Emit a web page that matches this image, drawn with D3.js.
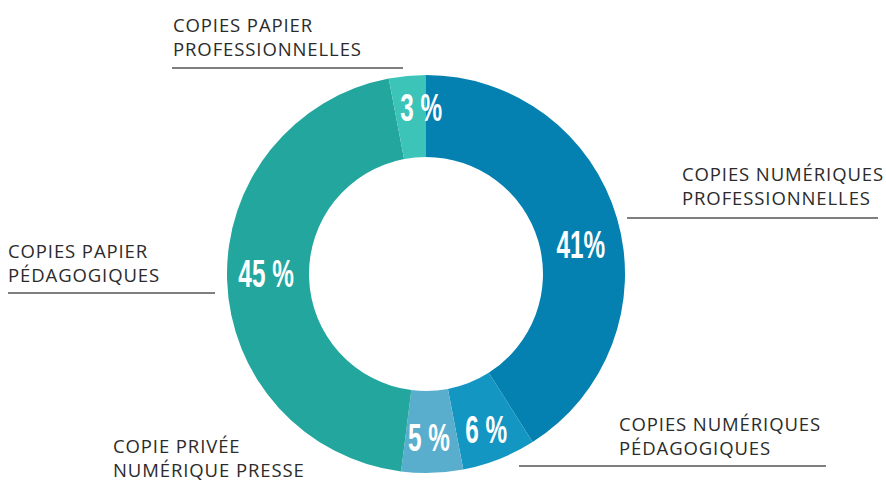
<!DOCTYPE html>
<html><head><meta charset="utf-8">
<script src="https://cdn.jsdelivr.net/npm/d3@7"></script>
<style>body{margin:0;background:#fff}svg{display:block}</style>
</head><body>
<svg id="c" width="886" height="481"></svg>
<script>
const categories = ["COPIES NUMÉRIQUES PROFESSIONNELLES","COPIES NUMÉRIQUES PÉDAGOGIQUES","COPIE PRIVÉE NUMÉRIQUE PRESSE","COPIES PAPIER PÉDAGOGIQUES","COPIES PAPIER PROFESSIONNELLES"];
const values = [41, 6, 5, 45, 3];
const valueLabels = ["41%", "6 %", "5 %", "45 %", "3 %"];
const labelLines = [["COPIES NUMÉRIQUES","PROFESSIONNELLES"],["COPIES NUMÉRIQUES","PÉDAGOGIQUES"],["COPIE PRIVÉE","NUMÉRIQUE PRESSE"],["COPIES PAPIER","PÉDAGOGIQUES"],["COPIES PAPIER","PROFESSIONNELLES"]];
const colors = ["#0481b1","#1496c2","#5aaecd","#23a69d","#3cc4b8"];

// layout (not data)
const cx = 426, cy = 274, R = 199, r = 117;
const nudges = [[3,15],[2,9],[-2,6],[-2,-5],[10,-9]];
const catPos = [
  {x:682, y:181, lx1:627, lx2:878, ly:218},
  {x:619, y:431, lx1:519, lx2:826, ly:466},
  {x:113, y:453, lx1:null},
  {x:8,   y:258, lx1:8, lx2:215, ly:293},
  {x:173, y:32,  lx1:172, lx2:403, ly:68}
];

const svg = d3.select("#c");
const g = svg.append("g").attr("transform", `translate(${cx},${cy})`);
const pie = d3.pie().sort(null).value(d => d)(values);
const arc = d3.arc().innerRadius(r).outerRadius(R);
const labelArc = d3.arc().innerRadius((R+r)/2).outerRadius((R+r)/2);

g.selectAll("path").data(pie).join("path")
  .attr("d", arc).attr("fill", (d,i) => colors[i]);

g.selectAll("text.v").data(pie).join("text")
  .attr("class","v")
  .attr("transform", (d,i) => {
    const c = labelArc.centroid(d);
    return `translate(${c[0] + nudges[i][0]},${c[1] + nudges[i][1]}) scale(0.64,1)`;
  })
  .attr("text-anchor","middle").attr("dominant-baseline","central")
  .attr("fill","#fff")
  .style("font-family","'Liberation Sans',Arial,sans-serif")
  .style("font-weight","bold").style("font-size","38px")
  .text((d,i) => valueLabels[i]);

const cats = svg.append("g");
labelLines.forEach((lines, i) => {
  const p = catPos[i];
  const t = cats.append("text").attr("x", p.x).attr("y", p.y)
    .attr("fill","#2b2b2b")
    .style("font-family","'Open Sans', Lato, sans-serif")
    .style("font-weight","400").style("font-size","18.5px")
    .style("letter-spacing","0.9px");
  lines.forEach((l, j) => t.append("tspan").attr("x", p.x).attr("dy", j ? 24 : 0).text(l));
  if (p.lx1 !== null) {
    cats.append("line").attr("x1", p.lx1).attr("x2", p.lx2).attr("y1", p.ly).attr("y2", p.ly)
      .attr("stroke","#555").attr("stroke-width",1.5);
  }
});
</script>
</body></html>
